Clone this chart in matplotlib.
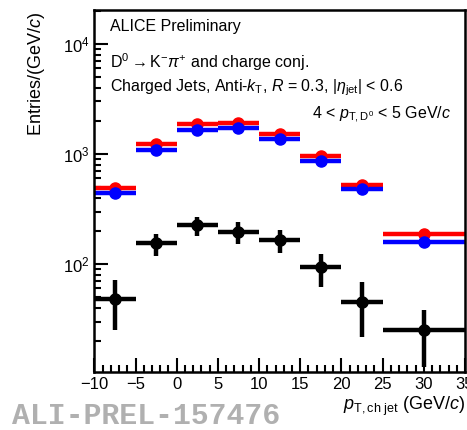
import numpy as np
import matplotlib
matplotlib.use("Agg")
import matplotlib.pyplot as plt
from matplotlib.ticker import LogLocator, MultipleLocator, NullFormatter

plt.rcParams['font.family'] = ['Liberation Sans', 'DejaVu Sans']
plt.rcParams['mathtext.fontset'] = 'custom'
plt.rcParams['mathtext.rm'] = 'Liberation Sans'
plt.rcParams['mathtext.it'] = 'Liberation Sans:italic'
plt.rcParams['mathtext.bf'] = 'Liberation Sans:bold'

# bins in pT,ch jet
bin_lo = np.array([-10, -5, 0, 5, 10, 15, 20, 25])
bin_hi = np.array([-5, 0, 5, 10, 15, 20, 25, 35])
bin_center = np.array([-7.5, -2.5, 2.5, 7.5, 12.5, 17.5, 22.5, 30])

red_vals = [494, 1233, 1874, 1914, 1531, 967, 522, 186]
blue_vals = [445, 1081, 1665, 1722, 1368, 864, 484, 160]
black_vals = [48, 154, 225, 195, 165, 93, 45, 25]
black_err = [23, 35, 44, 44, 39, 31, 23.5, 13.4]

xerr = [bin_center - bin_lo, bin_hi - bin_center]

fig = plt.figure(figsize=(4.67, 4.30), dpi=100)
ax = fig.add_axes([0.202, 0.134, 0.7937, 0.843])

ax.errorbar(bin_center, red_vals, xerr=xerr, fmt='o', color='#ff0000',
            ms=8, elinewidth=3.2, capsize=0)
ax.errorbar(bin_center, blue_vals, xerr=xerr, fmt='o', color='#0000ff',
            ms=8, elinewidth=3.2, capsize=0)
ax.errorbar(bin_center, black_vals, xerr=xerr, yerr=black_err, fmt='o',
            color='black', ms=8, elinewidth=3.2, capsize=0)

ax.set_yscale('log')
ax.set_xlim(-10, 35)
ax.set_ylim(10.35, 20400)

ax.xaxis.set_major_locator(MultipleLocator(5))
ax.xaxis.set_minor_locator(MultipleLocator(1))
ax.yaxis.set_major_locator(LogLocator(base=10))
ax.yaxis.set_minor_locator(LogLocator(base=10, subs=np.arange(2, 10)))
ax.yaxis.set_minor_formatter(NullFormatter())

ax.tick_params(which='both', direction='in', top=False, right=False,
               labelsize=12, width=1.5)
ax.tick_params(which='major', length=10)
ax.tick_params(which='minor', length=5)
for s in ax.spines.values():
    s.set_linewidth(1.8)

ax.set_ylabel('Entries/(GeV/$c$)', fontsize=13, ha='right', va='center')
ax.yaxis.set_label_coords(-0.155, 0.995)

fig.text(0.996, 0.055, r'$p_{\mathrm{T,ch\ jet}}$ (GeV/$c$)', ha='right',
         va='center', fontsize=13)
fig.text(0.026, 0.032, 'ALI-PREL-157476', ha='left', va='center',
         fontsize=21.5, color='#b0b0b0', fontweight='bold',
         family='Liberation Mono')

ax.text(0.043, 0.953, 'ALICE Preliminary', transform=ax.transAxes,
        fontsize=11.5, va='center', ha='left')
ax.text(0.043, 0.857, r'$\mathrm{D}^{0}\rightarrow\mathrm{K}^{-}\pi^{+}$ and charge conj.',
        transform=ax.transAxes, fontsize=11.5, va='center', ha='left')
ax.text(0.043, 0.785,
        r'Charged Jets, Anti-$k_{\mathrm{T}}$, $R$ = 0.3, |$\eta_{\mathrm{jet}}$| < 0.6',
        transform=ax.transAxes, fontsize=11.5, va='center', ha='left')
ax.text(0.962, 0.711, r'4 < $p_{\mathrm{T,D^{0}}}$ < 5 GeV/$c$',
        transform=ax.transAxes, fontsize=11.5, va='center', ha='right')

fig.savefig('out.png', dpi=100)
